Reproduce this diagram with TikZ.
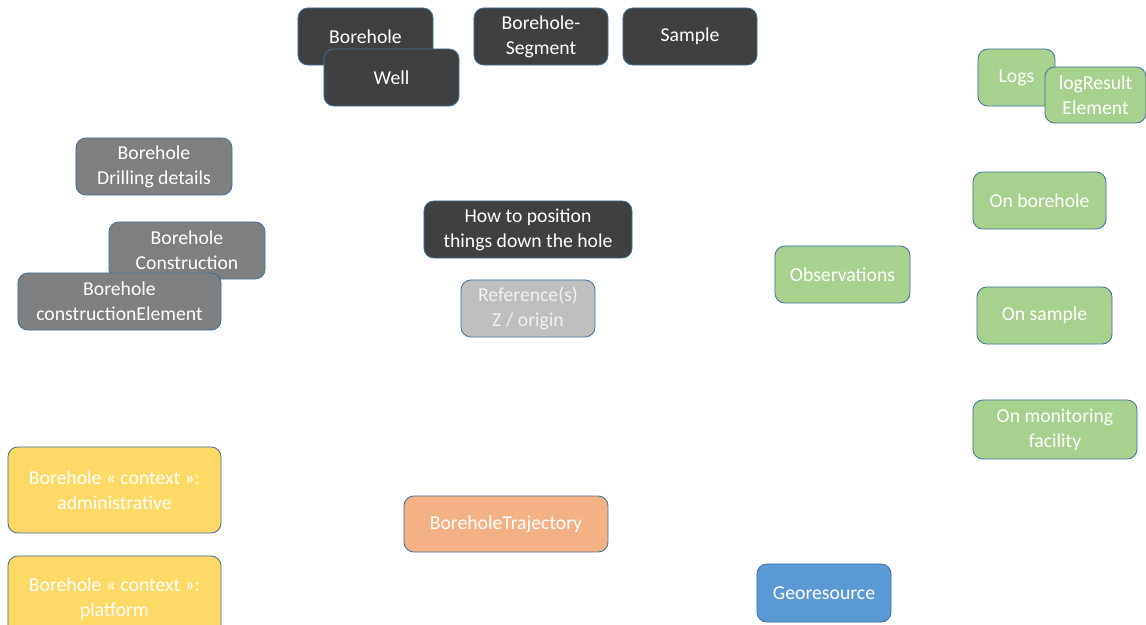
\documentclass[tikz,border=0pt]{standalone}
\usepackage{fontspec}
\setmainfont{Carlito}
\definecolor{darkbox}{HTML}{404040}
\definecolor{greybox}{HTML}{7F7F7F}
\definecolor{lightbox}{HTML}{BFBFBF}
\definecolor{greenbox}{HTML}{A9D18E}
\definecolor{yellowbox}{HTML}{FFD966}
\definecolor{orangebox}{HTML}{F4B183}
\definecolor{bluebox}{HTML}{5B9BD5}
\definecolor{edgeblue}{HTML}{41719C}
\tikzset{
	card/.style = {draw = edgeblue, line width = 0.6pt, rounded corners = 7pt, text = white,
		align = center, inner sep = 2pt, font = \fontsize{14}{17.7}\selectfont,
		minimum width = 3.375cm, minimum height = 1.425cm},
}
\begin{document}
\begin{tikzpicture}[x = 0.025cm, y = -0.025cm]
		% frame
		\useasboundingbox (0, 0) rectangle (1146, 625);
		\clip (0, 0) rectangle (1146, 625);
		% top row
		\node[card, fill = darkbox] (borehole) at (365.5, 36.5) {Borehole};
		\node[card, fill = darkbox] (well) at (391.5, 77.5) {Well};
		\node[card, fill = darkbox, minimum width = 3.35cm] (segment) at (541, 36.5) {Borehole-\\Segment};
		\node[card, fill = darkbox, minimum width = 3.35cm] (sample) at (690, 36.5) {Sample};
		% construction
		\node[card, fill = greybox, minimum width = 3.9cm] (drilling) at (154, 166.5) {Borehole\\Drilling details};
		\node[card, fill = greybox, minimum width = 3.9cm] (construction) at (187, 250.5) {Borehole\\Construction};
		\node[card, fill = greybox, minimum width = 5.075cm] (element) at (119.5, 301.5) {Borehole\\constructionElement};
		% position
		\node[card, fill = darkbox, minimum width = 5.2cm] (position) at (528, 229.5) {How to position\\things down the hole};
		\node[card, fill = lightbox, minimum width = 3.35cm, text = white!95!black] (reference) at (528, 308.5) {Reference(s)\\Z / origin};
		% context
		\node[card, fill = yellowbox, minimum width = 5.325cm, minimum height = 2.15cm] (admin) at (114.5, 490) {Borehole « context »:\\administrative};
		\node[card, fill = yellowbox, minimum width = 5.325cm, minimum height = 2.15cm] (platform) at (114.5, 599) {Borehole « context »:\\platform};
		\node[card, fill = orangebox, minimum width = 5.1cm, minimum height = 1.4cm] (trajectory) at (506, 524) {BoreholeTrajectory};
		\node[card, fill = bluebox, minimum width = 3.35cm, minimum height = 1.45cm] (georesource) at (824, 593) {Georesource};
		% observations
		\node[card, fill = greenbox] (observations) at (842.5, 274.5) {Observations};
		\node[card, fill = greenbox, minimum width = 1.925cm] (logs) at (1016.5, 77.5) {Logs};
		\node[card, fill = greenbox, minimum width = 2.525cm, minimum height = 1.4cm] (logresult) at (1095.5, 95) {logResult\\Element};
		\node[card, fill = greenbox, minimum width = 3.325cm] (onborehole) at (1039.5, 200.5) {On borehole};
		\node[card, fill = greenbox] (onsample) at (1044.5, 315.5) {On sample};
		\node[card, fill = greenbox, minimum width = 4.1cm, minimum height = 1.475cm] (onfacility) at (1055, 429.5) {On monitoring\\facility};
	\end{tikzpicture}
\end{document}
